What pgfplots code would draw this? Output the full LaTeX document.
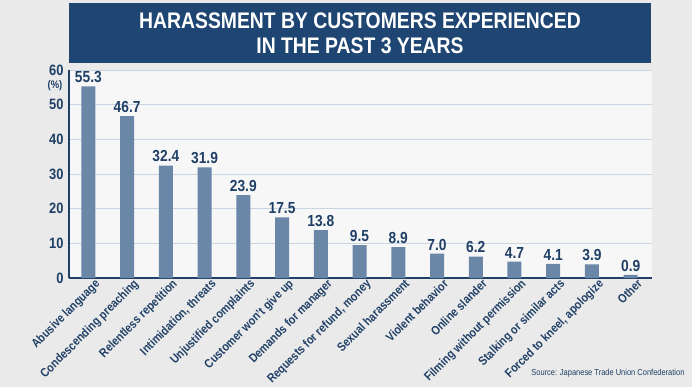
\documentclass[border=0pt]{standalone}
\usepackage{pgfplots}
\pgfplotsset{compat=1.18}
\usepackage{fontspec}
\setmainfont{Liberation Sans}[FakeStretch=0.86]
\definecolor{navy}{HTML}{1F3F66}
\definecolor{barc}{HTML}{6B87A8}
\definecolor{bg}{HTML}{EAEAEA}
\definecolor{plotbg}{HTML}{F7F7F7}
\definecolor{gridc}{HTML}{C9D5E1}
\definecolor{titlebg}{HTML}{1F4672}
\begin{document}
\begin{tikzpicture}[x=1pt,y=1pt]
\fill[bg] (0,0) rectangle (692,387);
\fill[titlebg] (69,324) rectangle (651,384);
\node[text=white, font=\bfseries\fontsize{22.5}{25}\selectfont, align=center] at (360,354) {HARASSMENT BY CUSTOMERS EXPERIENCED\\IN THE PAST 3 YEARS};
\begin{axis}[
  at={(69pt,109pt)}, anchor=south west,
  scale only axis, width=583pt, height=208pt,
  xmin=-0.5, xmax=14.55, ymin=0, ymax=60,
  axis lines*=left,
  axis line style={navy, line width=1.8pt},
  axis background/.style={fill=plotbg},
  ytick={0,10,...,60},
  ymajorgrids, grid style={gridc, line width=0.8pt},
  major tick length=0pt,
  /pgf/number format/assume math mode=true,
  yticklabel style={font=\bfseries\fontsize{15}{16}\selectfont, text=navy, xshift=-2pt},
  xtick=data,
  xticklabels={Abusive language, Condescending preaching, Relentless repetition, {Intimidation, threats}, Unjustified complaints, Customer won't give up, Demands for manager, {Requests for refund, money}, Sexual harassment, Violent behavior, Online slander, Filming without permission, Stalking or similar acts, {Forced to kneel, apologize}, Other},
  xticklabel style={font=\bfseries\fontsize{12.3}{13}\selectfont, text=navy, rotate=45, anchor=north east, xshift=5pt, yshift=-3pt, inner sep=1pt},
  ybar, bar width=14pt,
  nodes near coords,
  nodes near coords style={font=\bfseries\fontsize{16}{17}\selectfont, text=navy, /pgf/number format/.cd, fixed, zerofill, precision=1, assume math mode=true},
  clip=false,
]
\addplot[fill=barc, draw=none] coordinates {
(0,55.3) (1,46.7) (2,32.4) (3,31.9) (4,23.9) (5,17.5) (6,13.8) (7,9.5) (8,8.9) (9,7.0) (10,6.2) (11,4.7) (12,4.1) (13,3.9) (14,0.9)};
\end{axis}
\node[text=navy, font=\bfseries\fontsize{11}{12}\selectfont] at (55,301) {(\%)};
\node[text=navy, font=\fontsize{8.7}{9}\selectfont, anchor=south east] at (688,6) {Source: Japanese Trade Union Confederation};
\end{tikzpicture}
\end{document}
